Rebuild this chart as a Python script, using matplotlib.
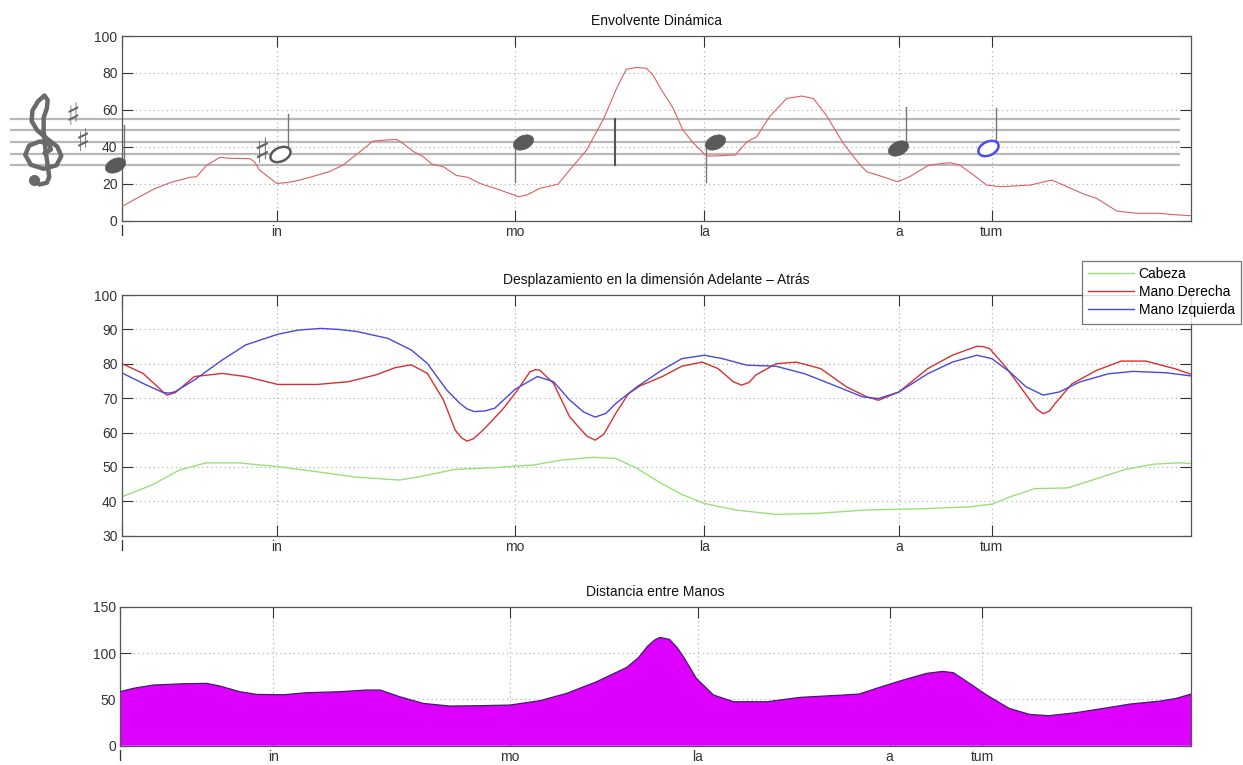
import numpy as np
import matplotlib
matplotlib.use("Agg")
import matplotlib.pyplot as plt
from matplotlib.path import Path
from matplotlib.transforms import Affine2D

plt.rcParams['font.family'] = ['Liberation Sans', 'DejaVu Sans']

# ---------------- data (x in % of the recording) ----------------
syllables = ['l', 'in', 'mo', 'la', 'a', 'tum']
syl_pos = [0, 14.5, 36.8, 54.5, 72.7, 81.4]
syl_pos_dist = [0, 14.31, 36.4, 53.93, 71.85, 80.49]

env_x = [0, 1.4, 2.96, 4.52, 6.39, 7.0, 7.95, 9.2, 10.1, 12.0, 12.4, 12.9, 14.5, 15.4, 16.3,
         17.6, 19.4, 20.7, 22.3, 23.5, 24.8, 25.7, 26.3, 27.3, 28.2, 29.0, 30.1, 31.3, 32.4,
         33.5, 35.4, 37.1, 37.9, 39.1, 40.8, 41.9, 43.5, 45.1, 46.3, 47.2, 48.2, 49.1, 49.7,
         50.5, 51.6, 52.5, 53.5, 54.7, 56.0, 57.4, 58.5, 59.4, 60.6, 62.2, 63.6, 64.7, 65.9,
         67.5, 68.1, 69.1, 69.7, 71.2, 72.6, 73.7, 75.5, 77.5, 78.4, 79.7, 80.9, 82.2, 85.0,
         87.0, 88.1, 90.0, 91.2, 93.1, 95.0, 97.1, 98.1, 100]
env_y = [7.6, 12.1, 17.0, 20.6, 23.5, 23.8, 30.1, 34.3, 33.8, 33.6, 32.0, 27.4, 20.2, 20.6, 21.5,
         23.5, 26.5, 30.1, 37.4, 43.1, 43.7, 44.0, 41.9, 37.4, 34.7, 30.7, 29.2, 24.5, 23.5,
         20.2, 16.6, 13.0, 13.9, 17.5, 19.7, 27.4, 38.3, 55.4, 71.7, 82.0, 83.0, 82.5, 78.9,
         70.8, 60.8, 49.1, 41.9, 35.0, 35.2, 35.6, 42.8, 45.5, 56.3, 66.2, 67.5, 66.2, 57.2,
         41.9, 37.4, 30.1, 26.5, 23.8, 21.1, 23.8, 30.1, 31.4, 30.1, 24.7, 19.3, 18.4, 19.3,
         22.0, 19.3, 14.4, 12.1, 5.2, 4.0, 4.0, 3.4, 2.7]

# staff: line heights, notes (x, y), filled?, stem end, colour
staff_lines = [30.0, 36.3, 42.6, 48.9, 55.3]
note_x = [-0.62, 14.8, 37.57, 55.5, 72.6, 81.0]
note_y = [30.3, 36.3, 42.6, 42.6, 39.5, 39.5]
note_filled = [True, False, True, True, True, False]
note_stem_end = [51.8, 58.0, 21.1, 21.0, 61.4, 60.8]
note_color = ['#5a5a5a', '#5a5a5a', '#5a5a5a', '#5a5a5a', '#5a5a5a', '#4a4af0']
sharp_note = (13.1, 36.8)
key_signature = '♯\n ♯'
key_sig_pos = (-5.3, 49.3)
barline_x = 46.15

mov_green_x = [0, 2.8, 5.4, 7.9, 10.9, 14.6, 18.3, 22.0, 26.0, 27.9, 31.2, 34.9, 38.6, 41.1,
               44.1, 46.2, 48.2, 50.5, 52.4, 54.5, 57.4, 61.2, 65.1, 69.7, 75.4, 79.3, 81.4,
               83.1, 85.4, 88.5, 90.8, 93.9, 96.5, 98.9, 100]
mov_green_y = [41.3, 44.7, 49.1, 51.2, 51.2, 50.1, 48.6, 47.0, 46.2, 47.2, 49.3, 49.8, 50.6, 52.0,
               52.8, 52.5, 49.6, 45.2, 42.0, 39.4, 37.5, 36.2, 36.5, 37.5, 37.9, 38.4, 39.2,
               41.3, 43.7, 43.9, 46.2, 49.3, 50.8, 51.2, 51.0]

mov_red_x = [0, 2.0, 3.4, 4.2, 5.0, 6.8, 9.4, 11.6, 14.6, 18.3, 21.2, 23.8, 25.6, 27.1, 28.6,
             30.1, 31.2, 31.8, 32.3, 32.9, 33.8, 35.6, 36.8, 38.2, 38.7, 39.1, 40.4, 41.9,
             43.5, 44.3, 45.1, 46.2, 47.4, 48.5, 50.5, 52.4, 54.3, 55.8, 57.2, 58.0, 58.7,
             59.3, 61.2, 63.1, 65.4, 67.8, 69.7, 70.8, 72.7, 75.4, 77.7, 80.0, 80.6, 81.2,
             82.7, 84.3, 85.6, 86.2, 86.8, 87.3, 88.9, 91.2, 93.5, 95.8, 98.5, 100]
mov_red_y = [80.1, 77.2, 73.2, 70.9, 71.6, 76.3, 77.2, 76.3, 74.0, 74.0, 74.8, 76.8, 78.9, 79.7,
             77.2, 69.5, 60.7, 58.5, 57.5, 58.2, 60.7, 66.6, 71.4, 77.7, 78.3, 78.2, 74.3,
             64.6, 59.0, 57.8, 59.5, 65.5, 71.3, 73.6, 76.2, 79.3, 80.5, 78.6, 74.8, 73.8,
             74.6, 76.7, 80.0, 80.5, 78.6, 73.3, 70.4, 69.4, 71.8, 78.6, 82.5, 85.1, 85.0,
             84.4, 79.1, 72.3, 66.8, 65.5, 66.3, 68.4, 74.2, 78.1, 80.8, 80.8, 78.6, 77.0]

mov_blue_x = [0, 2.0, 3.9, 4.5, 5.0, 6.8, 9.4, 11.6, 14.6, 16.5, 18.6, 20.3, 22.0, 24.9, 27.1,
              28.6, 30.4, 31.6, 32.3, 33.0, 34.0, 34.9, 36.8, 38.9, 40.4, 41.9, 43.2, 44.3,
              45.3, 46.2, 48.2, 50.5, 52.4, 54.5, 56.2, 58.5, 61.2, 63.9, 67.0, 69.3, 70.8,
              72.7, 75.4, 77.7, 80.0, 81.4, 83.1, 84.6, 86.2, 87.7, 89.6, 92.3, 94.6, 97.7, 100]
mov_blue_y = [77.4, 74.3, 71.6, 71.5, 71.9, 75.3, 81.1, 85.5, 88.6, 89.8, 90.3, 90.0, 89.4, 87.4,
              84.0, 80.1, 72.4, 68.6, 66.9, 66.1, 66.3, 67.1, 72.6, 76.3, 74.8, 69.5, 66.0,
              64.5, 65.6, 68.4, 73.3, 78.1, 81.5, 82.5, 81.5, 79.6, 79.3, 77.1, 73.3, 70.4,
              69.9, 71.8, 77.1, 80.5, 82.5, 81.5, 77.6, 73.3, 70.9, 71.8, 74.7, 77.1, 77.8,
              77.4, 76.5]

dist_x = [0, 1.24, 3.11, 5.9, 8.09, 9.33, 11.2, 12.76, 15.25, 17.4, 20.5, 23.0, 24.3, 26.1, 28.3,
          30.8, 33.6, 36.4, 39.2, 41.7, 44.5, 47.3, 48.4, 49.2, 49.9, 50.4, 51.3, 52.0, 52.6,
          53.8, 55.4, 57.3, 60.4, 63.5, 67.5, 69.0, 70.6, 73.1, 75.3, 76.8, 77.8, 79.3, 80.9,
          83.0, 84.9, 86.7, 89.2, 91.8, 94.3, 97.1, 98.6, 100]
dist_y = [58.3, 61.9, 65.5, 66.9, 67.3, 64.4, 58.3, 55.4, 55.0, 57.2, 58.3, 60.1, 60.1, 52.9,
          45.7, 42.8, 43.2, 43.9, 48.6, 56.5, 69.1, 84.5, 95.0, 106.8, 114.0, 116.9, 114.7,
          106.0, 96.0, 72.7, 54.7, 47.5, 47.5, 52.2, 54.7, 55.8, 61.9, 70.9, 78.1, 80.2,
          78.8, 67.3, 54.7, 40.3, 33.8, 32.4, 35.6, 40.3, 45.0, 48.2, 51.1, 55.8]

# treble clef outline, in staff spaces (bottom line = 0)
clef_sx = [0.15, 0.55, 0.45, -0.15, -0.8, -1.05, -0.7, 0.1, 0.9, 1.2, 0.95, 0.3, -0.3, -0.65,
           -0.6, -0.25, 0.15, 0.35, 0.3, 0.1, 0.1, 0.2, 0.35, 0.45, 0.3, -0.15, -0.5]
clef_sy = [1.05, 1.35, 1.85, 2.05, 1.7, 0.9, 0.05, -0.3, 0.0, 0.8, 1.6, 2.3, 3.0, 3.8,
           4.7, 5.5, 6.0, 5.6, 4.9, 4.1, 3.0, 1.5, 0.0, -1.0, -1.5, -1.65, -1.3]


def style(ax, ylim, yticks, xticks, title):
    ax.set_xlim(0, 100)
    ax.set_ylim(*ylim)
    ax.set_yticks(yticks)
    ax.set_xticks(xticks)
    ax.set_xticklabels(syllables)
    ax.tick_params(direction='in', length=7.7, width=0.8, top=True, right=True,
                   labelsize=10, pad=3, colors='#333333')
    ax.grid(True, linestyle=(0, (1, 3)), color='#aaaaaa', linewidth=0.8)
    for s in ax.spines.values():
        s.set_color('#555555')
        s.set_linewidth(0.9)
    ax.set_title(title, fontsize=10, pad=8, color='#111111')


fig = plt.figure(figsize=(12.43, 7.65), dpi=100)
ax1 = fig.add_axes([0.0979, 0.7115, 0.8600, 0.2414])
ax2 = fig.add_axes([0.0979, 0.2997, 0.8600, 0.3146])
ax3 = fig.add_axes([0.0965, 0.0252, 0.8619, 0.1817])

# ---------------- top: envelope + score ----------------
style(ax1, (0, 100), range(0, 101, 20), syl_pos, 'Envolvente Dinámica')
space = staff_lines[1] - staff_lines[0]
for ly in staff_lines:
    ax1.plot([-10.4, 98.9], [ly, ly], color='#b8b8b8', lw=1.6, clip_on=False, zorder=1)
ax1.plot([barline_x, barline_x], [staff_lines[0], staff_lines[-1]], color='#555555', lw=1.5, zorder=2)

# clef drawn as a shape (no installed font has U+1D11E)
clef_tr = Affine2D().scale(1.5, space).translate(-7.45, staff_lines[0]) + ax1.transData
ax1.plot(clef_sx, clef_sy, color='#6a6a6a', lw=3.2, solid_capstyle='round',
         solid_joinstyle='round', transform=clef_tr, clip_on=False, zorder=3)
ax1.plot([clef_sx[-1]], [clef_sy[-1]], marker='o', markersize=7, color='#6a6a6a',
         transform=clef_tr, clip_on=False, zorder=3)

# key signature (two sharps) as one two-line text
ax1.text(key_sig_pos[0], key_sig_pos[1], key_signature, fontsize=22, fontweight='bold',
         ha='left', va='center', multialignment='left', linespacing=0.86,
         color='#666666', family='DejaVu Sans', clip_on=False)
ax1.text(sharp_note[0], sharp_note[1], '♯', fontsize=25, fontweight='bold', ha='center',
         va='center', color='#666666', family='DejaVu Sans')

head = Path.unit_circle().transformed(Affine2D().scale(1.0, 0.64).rotate_deg(25))
for nx, ny, filled, se, c in zip(note_x, note_y, note_filled, note_stem_end, note_color):
    up = se > ny
    sx = nx + 0.8 if up else nx - 0.8
    ax1.plot([sx, sx], [ny, se], color='#777777', lw=1.0, zorder=3, clip_on=False)
    ax1.plot([nx], [ny], linestyle='none', marker=head, markersize=15,
             mfc=c if filled else 'white', mec=c, mew=1.8 if not filled else 0.5,
             zorder=4, clip_on=False)

ax1.plot(env_x, env_y, color='#dd6060', lw=0.8, zorder=5)

# ---------------- middle: forward/back movement ----------------
style(ax2, (30, 100), range(30, 101, 10), syl_pos,
      'Desplazamiento en la dimensión Adelante – Atrás')
l1, = ax2.plot(mov_green_x, mov_green_y, color='#9ae07a', lw=1.0, label='Cabeza')
l2, = ax2.plot(mov_red_x, mov_red_y, color='#d83030', lw=1.0, label='Mano Derecha')
l3, = ax2.plot(mov_blue_x, mov_blue_y, color='#4848e0', lw=1.0, label='Mano Izquierda')
leg = fig.legend(handles=[l1, l2, l3], loc='upper left', bbox_to_anchor=(0.8702, 0.6592),
                 fontsize=10, frameon=True, fancybox=False, borderaxespad=0,
                 handlelength=3.3, handletextpad=0.35, labelspacing=0.3, borderpad=0.45)
leg.get_frame().set_edgecolor('#555555')
leg.get_frame().set_linewidth(0.9)

# ---------------- bottom: distance between hands ----------------
style(ax3, (0, 150), [0, 50, 100, 150], syl_pos_dist, 'Distancia entre Manos')
ax3.fill_between(dist_x, dist_y, 0, facecolor='#dd00ff', edgecolor='none', zorder=2)
ax3.plot(dist_x, dist_y, color='#402060', lw=0.9, zorder=3)

fig.savefig('out.png', dpi=100)
